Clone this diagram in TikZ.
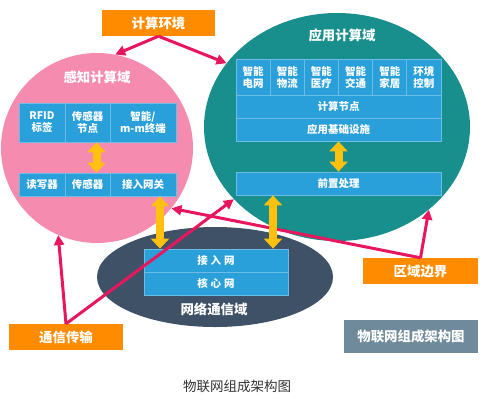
\documentclass[tikz,border=0pt]{standalone}
\usepackage{fontspec}
\setmainfont{Noto Sans CJK SC}
\usetikzlibrary{shapes.geometric,arrows.meta,calc}
\definecolor{orangec}{RGB}{255,140,0}
\definecolor{pinkc}{RGB}{246,139,176}
\definecolor{tealc}{RGB}{24,143,140}
\definecolor{darkc}{RGB}{62,81,102}
\definecolor{cellblue}{RGB}{42,160,218}
\definecolor{celline}{RGB}{110,188,230}
\definecolor{magc}{RGB}{232,23,93}
\definecolor{yellowc}{RGB}{255,193,14}
\definecolor{grayboxc}{RGB}{111,139,155}
\definecolor{captionc}{RGB}{51,51,51}
\begin{document}
\begin{tikzpicture}[x=1pt,y=-1pt,
  region/.style={ellipse, inner sep=0pt},
  dtitle/.style={text=white, font=\fontsize{13.4}{15}\selectfont\bfseries},
  cell/.style={draw=celline, line width=0.8pt, fill=cellblue, text=white,
    font=\fontsize{10.5}{12}\selectfont\bfseries, align=center, inner sep=0pt},
  obox/.style={fill=orangec, text=white, font=\fontsize{13.4}{15}\selectfont\bfseries,
    inner sep=0pt, minimum height=26pt},
  marrow/.style={draw=magc, line width=3pt, -{Triangle[length=10pt,width=10pt]}},
  yarrow/.style={draw=yellowc, line width=8pt,
    {Triangle[length=10pt,width=18pt]}-{Triangle[length=10pt,width=18pt]}}
]
\useasboundingbox (0,0) rectangle (500,405);
\fill[white] (0,0) rectangle (500,405);

% domains
\node[region, fill=pinkc, minimum width=192pt, minimum height=190pt] (pink) at (97,148) {};
\node[region, fill=tealc, minimum width=266pt, minimum height=228pt] (teal) at (337,127) {};
\node[region, fill=darkc, minimum width=236pt, minimum height=100pt] (net) at (215,277) {};

\node[dtitle] (tpink) at (97,77) {感知计算域};
\node[dtitle] (tteal) at (342,35) {应用计算域};
\node[dtitle] (tnet) at (214,309) {网络通信域};

% perception domain cells
\node[cell, minimum width=46pt, minimum height=39pt] (p1) at (42,122.5) {RFID\\标签};
\node[cell, minimum width=45pt, minimum height=39pt] (p2) at (87.5,122.5) {传感器\\节点};
\node[cell, minimum width=66pt, minimum height=39pt] (p3) at (143,122.5) {智能/\\m-m终端};
\node[cell, minimum width=46pt, minimum height=23pt] (q1) at (42,184.5) {读写器};
\node[cell, minimum width=45pt, minimum height=23pt] (q2) at (87.5,184.5) {传感器};
\node[cell, minimum width=66pt, minimum height=23pt] (gw) at (143,184.5) {接入网关};

% application domain cells
\node[cell, minimum width=34.2pt, minimum height=36pt] (a1) at (253.1,77) {智能\\电网};
\node[cell, minimum width=34.2pt, minimum height=36pt] (a2) at (287.3,77) {智能\\物流};
\node[cell, minimum width=34.2pt, minimum height=36pt] (a3) at (321.4,77) {智能\\医疗};
\node[cell, minimum width=34.2pt, minimum height=36pt] (a4) at (355.6,77) {智能\\交通};
\node[cell, minimum width=34.2pt, minimum height=36pt] (a5) at (389.8,77) {智能\\家居};
\node[cell, minimum width=34.2pt, minimum height=36pt] (a6) at (423.9,77) {环境\\控制};
\node[cell, minimum width=205pt, minimum height=23pt] (cn) at (338.5,106.5) {计算节点};
\node[cell, minimum width=205pt, minimum height=23pt] (infra) at (338.5,129.5) {应用基础设施};
\node[cell, minimum width=205pt, minimum height=23pt] (pre) at (338.5,183.5) {前置处理};

% network domain cells
\node[cell, minimum width=144pt, minimum height=23pt] (an) at (216,260.5) {接\hspace{3pt}入\hspace{3pt}网};
\node[cell, minimum width=144pt, minimum height=23pt] (cnet) at (216,283.5) {核\hspace{3pt}心\hspace{3pt}网};

% label boxes
\node[obox, minimum width=113pt] (env) at (158.5,23) {计算环境};
\node[obox, minimum width=114pt] (comm) at (66,337) {通信传输};
\node[obox, minimum width=115pt] (bound) at (420.5,271) {区域边界};
\node[fill=grayboxc, text=white, font=\fontsize{13.4}{15}\selectfont\bfseries,
  inner sep=0pt, minimum width=134pt, minimum height=33pt] (legend) at (411,336.5) {物联网组成架构图};
\node[text=captionc, font=\fontsize{13.5}{15}\selectfont] (caption) at (237,386) {物联网组成架构图};

% magenta connectors
\draw[marrow] (env.south) -- (pink.79);
\draw[marrow] (env.south) -- (teal.150);
\draw[marrow] (comm.north) -- (pink.246);
\draw[marrow] (comm.north) -- (teal.215);
\draw[marrow] (bound.north) -- (teal.318);
\draw[marrow] (bound.north) -- (pink.321);

% yellow double arrows
\draw[yarrow] ([xshift=9pt]p2.south) -- ([xshift=9pt]q2.north);
\draw[yarrow] (infra.south) -- (pre.north);
\coordinate (ya) at ([xshift=17pt]gw.south);
\coordinate (yb) at ([xshift=-65.5pt]pre.south);
\draw[yarrow] (ya) -- (ya |- an.north);
\draw[yarrow] (yb) -- (yb |- an.north);
\end{tikzpicture}
\end{document}
